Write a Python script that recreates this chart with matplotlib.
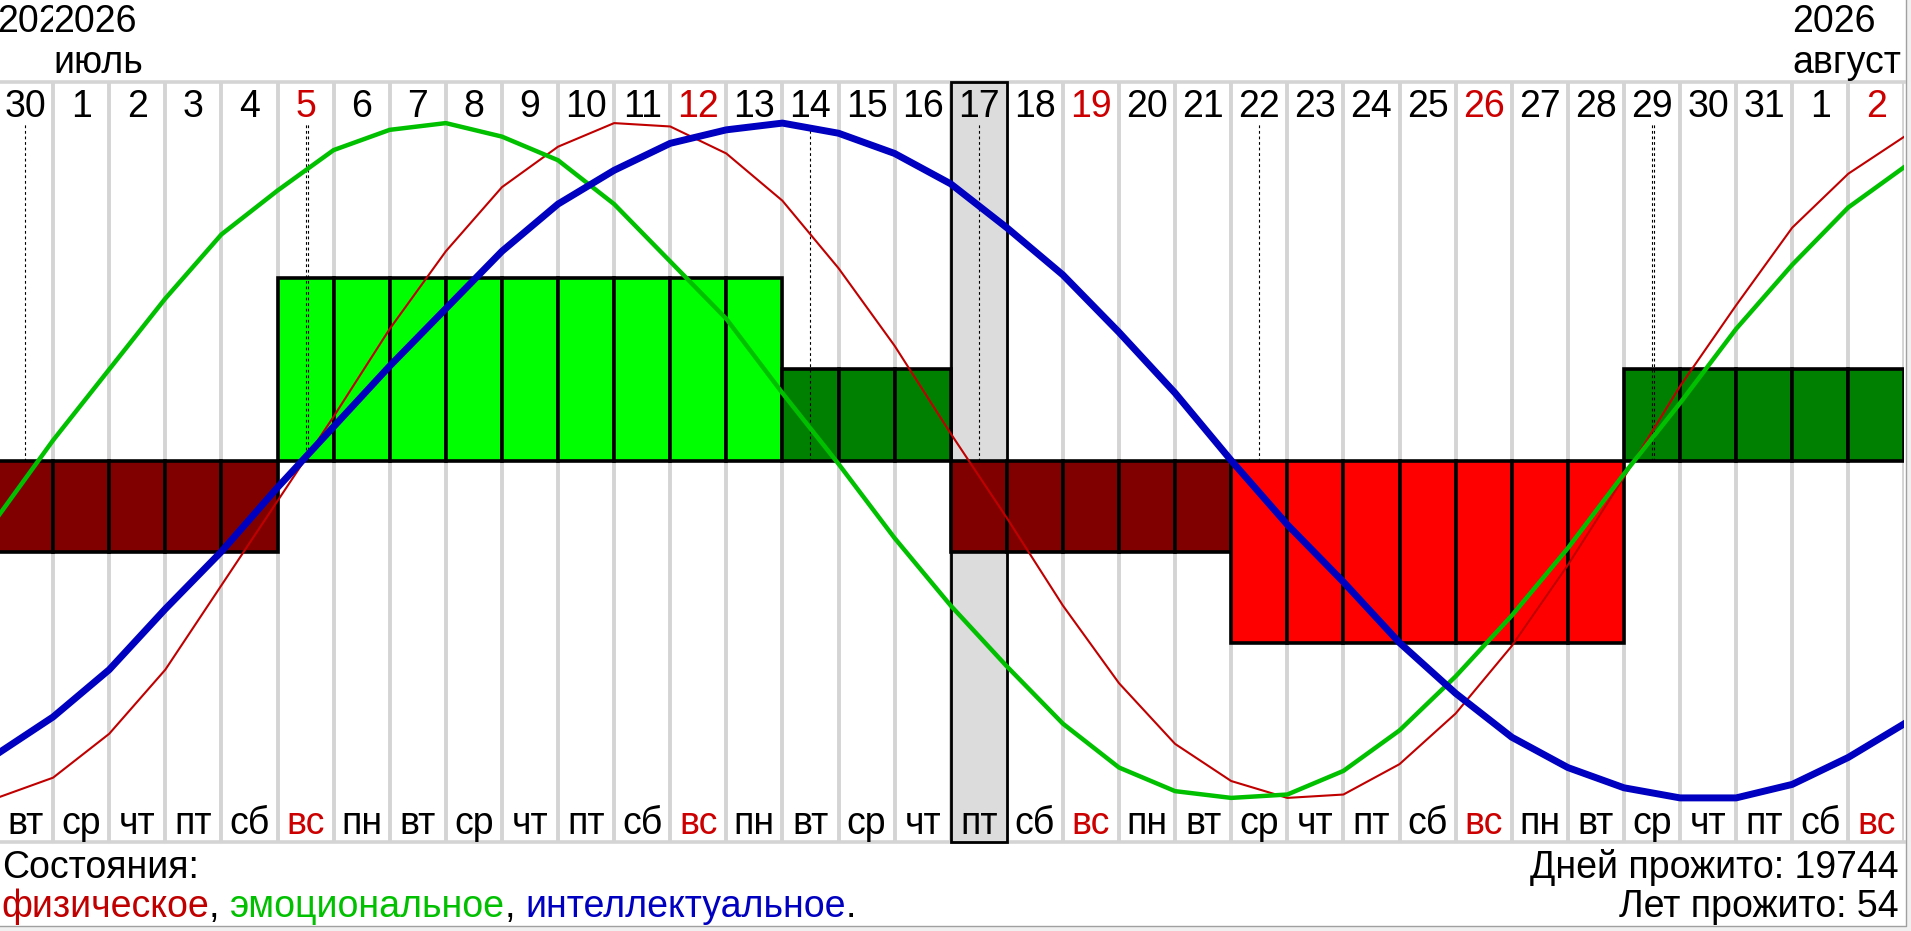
import matplotlib
matplotlib.use('Agg')
import matplotlib.pyplot as plt
from matplotlib.patches import Rectangle
from matplotlib.lines import Line2D

plt.rcParams['font.family'] = ['Liberation Sans', 'DejaVu Sans']

# --- data ----------------------------------------------------------------
day_labels = ['30', '1', '2', '3', '4', '5', '6', '7', '8', '9', '10', '11',
              '12', '13', '14', '15', '16', '17', '18', '19', '20', '21', '22',
              '23', '24', '25', '26', '27', '28', '29', '30', '31', '1', '2']
weekdays = ['вт', 'ср', 'чт', 'пт', 'сб', 'вс', 'пн', 'вт', 'ср', 'чт', 'пт',
            'сб', 'вс', 'пн', 'вт', 'ср', 'чт', 'пт', 'сб', 'вс', 'пн', 'вт',
            'ср', 'чт', 'пт', 'сб', 'вс', 'пн', 'вт', 'ср', 'чт', 'пт', 'сб', 'вс']
month_cols = [1, 32]
month_names = ['июль', 'август']
year_label = '2026'
today_col = 17

# values at day boundaries (35 points, -1..1)
physical = [-1.00, -0.94, -0.81, -0.62, -0.37, -0.12, 0.13, 0.39, 0.62, 0.81,
            0.93, 1.00, 0.99, 0.91, 0.77, 0.57, 0.34, 0.08, -0.17, -0.43,
            -0.66, -0.84, -0.95, -1.00, -0.99, -0.90, -0.75, -0.55, -0.31,
            -0.05, 0.22, 0.46, 0.69, 0.85, 0.96]
emotional = [-0.17, 0.06, 0.27, 0.48, 0.67, 0.80, 0.92, 0.98, 1.00, 0.96,
             0.89, 0.76, 0.59, 0.42, 0.20, -0.01, -0.23, -0.43, -0.61, -0.78,
             -0.91, -0.98, -1.00, -0.99, -0.92, -0.80, -0.64, -0.46, -0.26,
             -0.04, 0.17, 0.39, 0.58, 0.75, 0.87]
intellectual = [-0.87, -0.76, -0.62, -0.44, -0.27, -0.08, 0.10, 0.28, 0.45,
                0.62, 0.76, 0.86, 0.94, 0.98, 1.00, 0.97, 0.91, 0.82, 0.69,
                0.55, 0.38, 0.20, 0.00, -0.19, -0.36, -0.54, -0.69, -0.82,
                -0.91, -0.97, -1.00, -1.00, -0.96, -0.88, -0.78]

# daily state bars
state_levels = [-1, -1, -1, -1, -1, 2, 2, 2, 2, 2, 2, 2, 2, 2, 1, 1, 1,
                -1, -1, -1, -1, -1, -2, -2, -2, -2, -2, -2, -2, 1, 1, 1, 1, 1]

# critical days (zero crossings) per rhythm
crit_physical = [5, 17, 29]
crit_emotional = [0, 14, 29]
crit_intellectual = [5, 22]

days_lived = 19744
years_lived = 54

# --- styling ---------------------------------------------------------------
W, H = 1911, 931
RED, GREEN, BLUE = '#C00000', '#00C000', '#0000C0'
SUN = '#CC0000'
GRID = '#D4D4D4'
level_colors = {-2: '#FF0000', -1: '#800000', 1: '#008000', 2: '#00FF00'}
level_unit = 0.27
FS = 27


def yv(py):
    # pixel row of the picture -> value axis
    return (460.5 - py) / 337.4


fig = plt.figure(figsize=(W / 100, H / 100), dpi=100)
fig.patch.set_facecolor('#F0F0F0')
fig.add_artist(Rectangle((0, 1 - 926 / H), 1906 / W, 926 / H,
                         transform=fig.transFigure, facecolor='white',
                         edgecolor='none', zorder=0))
fig.add_artist(Line2D([1906 / W, 1906 / W, 0], [1, 1 - 926 / H, 1 - 926 / H],
                      transform=fig.transFigure, color='#A0A0A0', lw=1))

ax = fig.add_axes([-3 / W, 1 - 842 / H, 1907.4 / W, 760 / H])
ax.set_xlim(0, len(day_labels))
ax.set_ylim(yv(842), yv(82))
ax.axis('off')

n = len(day_labels)

# grid
for b in range(1, n + 1):
    ax.axvline(b, color=GRID, lw=2.8, zorder=1)
ax.axhline(yv(82), color=GRID, lw=2.6, zorder=1, clip_on=False)
ax.axhline(yv(842), color=GRID, lw=2.6, zorder=1, clip_on=False)

# today highlight
ax.add_patch(Rectangle((today_col, yv(842)), 1, yv(82) - yv(842),
                       facecolor='#DCDCDC', edgecolor='black', lw=2,
                       zorder=2, clip_on=False))

# state bars
cols = list(range(n))
ax.bar([c + 0.5 for c in cols], [lv * level_unit for lv in state_levels],
       width=1, color=[level_colors[lv] for lv in state_levels],
       edgecolor='black', linewidth=2.6, zorder=3)

# critical day markers
marks = {}
for c in crit_physical + crit_emotional + crit_intellectual:
    marks[c] = marks.get(c, 0) + 1
for c, k in marks.items():
    for j in range(k):
        ax.plot([c + 0.5 + 0.045 * j] * 2, [0, 1.0], color='black', lw=0.8,
                ls=(0, (2.5, 2.5)), zorder=4)

# rhythm curves
xb = list(range(n + 1))
ax.plot(xb, physical, color=RED, lw=1.5, zorder=5)
ax.plot(xb, emotional, color=GREEN, lw=3.2, zorder=6)
ax.plot(xb, intellectual, color=BLUE, lw=5, zorder=7)

# day numbers and weekdays
for c in cols:
    col = SUN if weekdays[c] == 'вс' else 'black'
    ax.text(c + 0.5, yv(117), day_labels[c], ha='center', va='baseline',
            fontsize=FS, color=col, zorder=8)
    ax.text(c + 0.5, yv(834), weekdays[c], ha='center', va='baseline',
            fontsize=FS, color=col, zorder=8)

# year / month header
t = ax.text(0, yv(32), year_label, ha='left', va='baseline', fontsize=FS,
            clip_on=True)
t.set_clip_path(Rectangle((0, -5), month_cols[0], 10, transform=ax.transData))
for c, name in zip(month_cols, month_names):
    ax.text(c, yv(32), year_label, ha='left', va='baseline', fontsize=FS)
    ax.text(c, yv(73), name, ha='left', va='baseline', fontsize=FS)

# footer
fig.text(2 / W, 1 - 878 / H, 'Состояния:', fontsize=FS, va='baseline')
fig.text(1899 / W, 1 - 878 / H, f'Дней прожито: {days_lived}', fontsize=FS,
         va='baseline', ha='right')
fig.text(1899 / W, 1 - 917 / H, f'Лет прожито: {years_lived}', fontsize=FS,
         va='baseline', ha='right')

legend_parts = [('физическое', RED), (', ', 'black'), ('эмоциональное', GREEN),
                (', ', 'black'), ('интеллектуальное', BLUE), ('.', 'black')]
renderer = fig.canvas.get_renderer()


def text_width(s):
    tmp = fig.text(0, 0, s, fontsize=FS)
    w = tmp.get_window_extent(renderer).width
    tmp.remove()
    return w


full = ''
for s, c in legend_parts:
    full += s
    piece = s.rstrip()
    x = 1 + text_width(full.rstrip()) - text_width(piece)
    fig.text(x / W, 1 - 917 / H, piece, fontsize=FS, color=c, va='baseline')

fig.savefig('out.png', dpi=100, facecolor=fig.get_facecolor())
